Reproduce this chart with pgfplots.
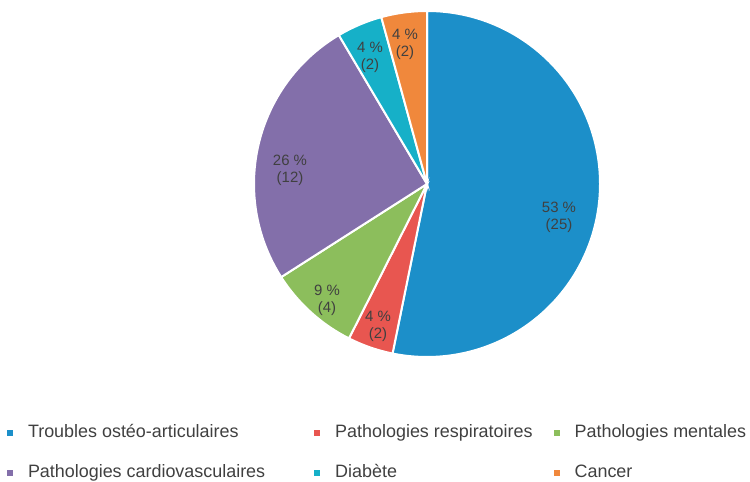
\documentclass[border=0pt]{standalone}
\usepackage{fontspec}
\setmainfont{Liberation Sans}
\usepackage{pgfplots}
\pgfplotsset{compat=1.18}

\definecolor{cTroubles}{RGB}{28,143,201}
\definecolor{cResp}{RGB}{232,86,80}
\definecolor{cMent}{RGB}{140,190,92}
\definecolor{cCardio}{RGB}{131,111,170}
\definecolor{cDiab}{RGB}{22,176,200}
\definecolor{cCancer}{RGB}{240,136,60}
\definecolor{txt}{RGB}{64,64,64}

% slice: cumulative count before, count, colour (total 47)
\newcommand{\slice}[3]{%
  \filldraw[fill=#3, draw=white, line width=2bp]
    (axis cs:427,298) -- ++({90-#1/47*360}:173bp)
    arc[start angle={90-#1/47*360}, end angle={90-(#1+#2)/47*360}, radius=173bp]
    -- cycle;}

\begin{document}
\begin{tikzpicture}
\begin{axis}[
    name=a,
    hide axis,
    x=1bp, y=1bp,
    xmin=0, xmax=750, ymin=0, ymax=482,
    enlargelimits=false,
    clip=false,
    legend columns=3,
    legend cell align=left,
    legend style={
        at={(axis cs:7,58)}, anchor=north west,
        draw=none, fill=none, inner sep=0pt, outer sep=0pt,
        font=\fontsize{18}{20}\selectfont, text=txt,
        row sep=22bp,
        nodes={inner sep=0pt, text height=14bp, text depth=4bp},
        /tikz/every odd column/.append style={column sep=15bp},
        /tikz/column 2/.append style={column sep=49bp},
        /tikz/column 4/.append style={column sep=21bp},
    },
    legend image code/.code={\fill[#1, draw=none] (0bp,-3bp) rectangle (6bp,3bp);},
]
\slice{0}{25}{cTroubles}
\slice{25}{2}{cResp}
\slice{27}{4}{cMent}
\slice{31}{12}{cCardio}
\slice{43}{2}{cDiab}
\slice{45}{2}{cCancer}

\begin{scope}[every node/.style={align=center, text=txt, font=\fontsize{15}{17}\selectfont}]
\node at (axis cs:559,265) {53 \%\\(25)};
\node at (axis cs:378,156) {4 \%\\(2)};
\node at (axis cs:327,182) {9 \%\\(4)};
\node at (axis cs:290,312) {26 \%\\(12)};
\node at (axis cs:370,425) {4 \%\\(2)};
\node at (axis cs:405,438) {4 \%\\(2)};
\end{scope}

\addlegendimage{color=cTroubles}\addlegendentry{Troubles ostéo-articulaires}
\addlegendimage{color=cResp}\addlegendentry{Pathologies respiratoires}
\addlegendimage{color=cMent}\addlegendentry{Pathologies mentales}
\addlegendimage{color=cCardio}\addlegendentry{Pathologies cardiovasculaires}
\addlegendimage{color=cDiab}\addlegendentry{Diabète}
\addlegendimage{color=cCancer}\addlegendentry{Cancer}
\end{axis}
\pgfresetboundingbox
\useasboundingbox (a.south west) rectangle (a.north east);
\end{tikzpicture}
\end{document}
